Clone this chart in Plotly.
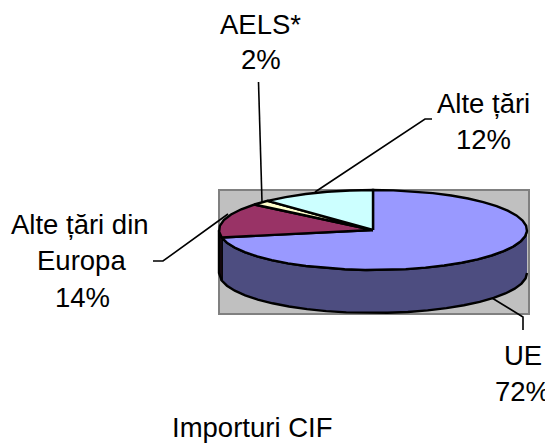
import math
import plotly.graph_objects as go

# Data
categories = ["UE", "Alte țări din Europa", "AELS*", "Alte țări"]
values = [72, 14, 2, 12]
title_text = "Importuri CIF"

# Styles
top_colors = ["#9999ff", "#993366", "#ffffcc", "#ccffff"]
side_colors = ["#4d4d80", "#1a0a12", "#80805f", "#668080"]
FONT = "Liberation Sans"
FS = 27.5
W, H = 553, 443
PAGE = 8  # the page's own body margin
CX, CY, RX, RY, DEPTH = 373, 230, 154, 40, 43


def ell(a, dz=0):
    r = math.radians(a)
    return CX + RX * math.sin(r), CY - RY * math.cos(r) + dz


def arc(a0, a1, dz=0, step=7.5):
    n = max(1, int(abs(a1 - a0) / step))
    return [ell(a0 + (a1 - a0) * i / n, dz) for i in range(n + 1)]


def poly(fig, pts, color, width=2.4):
    fig.add_trace(go.Scatter(
        x=[p[0] for p in pts], y=[p[1] for p in pts], mode="lines",
        fill="toself", fillcolor=color,
        line=dict(color="black", width=width), hoverinfo="skip", showlegend=False,
    ))


def leader(fig, pts):
    fig.add_trace(go.Scatter(
        x=[p[0] for p in pts], y=[p[1] for p in pts], mode="lines",
        line=dict(color="black", width=1.6), hoverinfo="skip", showlegend=False,
    ))


fig = go.Figure()

# walls, front half only (90 to 270 degrees clockwise from top)
total = sum(values)
start = 0
spans = []
for v in values:
    end = start + 360 * v / total
    spans.append((start, end))
    start = end
for (a0, a1), c in zip(spans, side_colors):
    lo, hi = max(a0, 90), min(a1, 270)
    if lo < hi:
        poly(fig, arc(lo, hi) + arc(hi, lo, DEPTH), c)

# top faces
for (a0, a1), c in zip(spans, top_colors):
    poly(fig, [(CX, CY)] + arc(a0, a1) + [(CX, CY)], c)

# leader lines
leader(fig, [(492, 298), (523, 317), (523, 330)])
leader(fig, [(228, 214), (163, 261), (153, 261)])
leader(fig, [(262, 202), (258.5, 82)])
leader(fig, [(315, 192), (425, 119), (432, 119)])

labels = [
    ("AELS*", 260, 24), ("2%", 261, 59),
    ("Alte țări", 483, 103), ("12%", 483, 139),
    ("Alte țări din", 80, 224), ("Europa", 81, 260), ("14%", 82, 297),
    ("UE", 523, 355), ("72%", 522, 391),
    (title_text, 251.5, 427),
]
annotations = [
    dict(x=x, y=y, text=t, showarrow=False, xanchor="center", yanchor="middle",
         font=dict(family=FONT, size=FS, color="black"))
    for t, x, y in labels
]

fig.update_layout(
    width=W - PAGE, height=H - PAGE,
    margin=dict(l=0, r=0, t=0, b=0),
    paper_bgcolor="white", plot_bgcolor="white",
    showlegend=False, annotations=annotations,
    xaxis=dict(range=[PAGE, W], visible=False, fixedrange=True),
    yaxis=dict(range=[H, PAGE], visible=False, fixedrange=True),
    shapes=[dict(type="rect", x0=219, x1=529, y0=190, y1=314, layer="below",
                 fillcolor="#c0c0c0", line=dict(color="#808080", width=2))],
)
fig.write_html("out.html", config={"displayModeBar": False})
